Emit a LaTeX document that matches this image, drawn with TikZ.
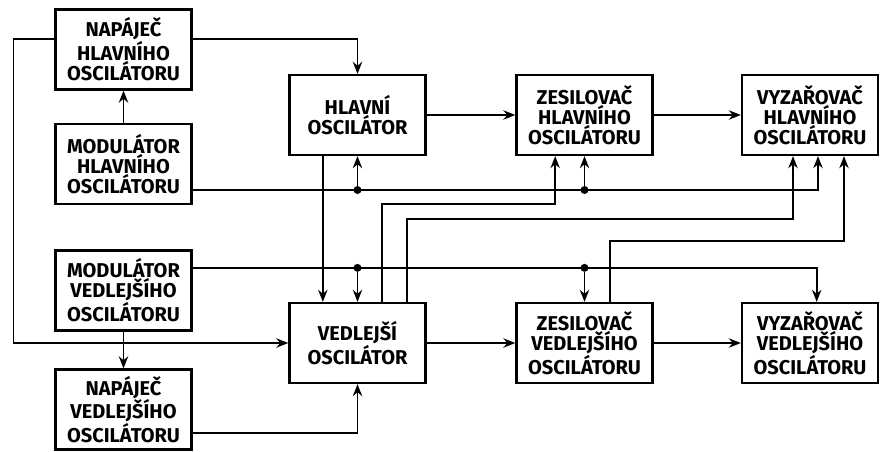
\documentclass[tikz,border=0pt]{standalone}
\usepackage{fontspec}
\setmainfont{Fira Sans}
\usetikzlibrary{arrows.meta,positioning,calc}

\begin{document}
\begin{tikzpicture}[
   x=0.75pt, y=-0.75pt, >={Stealth[length=9pt,width=7pt]},
   blok/.style={draw,line width=1.7pt,minimum width=102pt,minimum height=60pt,align=center,inner sep=1pt,font=\bfseries\fontsize{15}{15}\selectfont},
   vodic/.style={line width=1.3pt},
   uzel/.style={circle,fill,inner sep=0pt,minimum size=6pt}]
  \useasboundingbox (0,0) rectangle (880,451);
  % bloky
  \node[blok] (nh) at (123.5,49.5) {NAPÁJEČ\\HLAVNÍHO\\OSCILÁTORU};
  \node[blok] (mh) at (123.5,164) {MODULÁTOR\\HLAVNÍHO\\OSCILÁTORU};
  \node[blok] (mv) at (123.5,290.5) {MODULÁTOR\\VEDLEJŠÍHO\\OSCILÁTORU};
  \node[blok] (nv) at (123.5,409.5) {NAPÁJEČ\\VEDLEJŠÍHO\\OSCILÁTORU};
  \node[blok] (ho) at (357.5,115) {HLAVNÍ\\OSCILÁTOR};
  \node[blok] (zh) at (584.5,115) {ZESILOVAČ\\HLAVNÍHO\\OSCILÁTORU};
  \node[blok] (vh) at (810,115) {VYZAŘOVAČ\\HLAVNÍHO\\OSCILÁTORU};
  \node[blok] (vo) at (357.5,343) {VEDLEJŠÍ\\OSCILÁTOR};
  \node[blok] (zv) at (584.5,343) {ZESILOVAČ\\VEDLEJŠÍHO\\OSCILÁTORU};
  \node[blok] (vv) at (810,343) {VYZAŘOVAČ\\VEDLEJŠÍHO\\OSCILÁTORU};
  % hlavni vetev
  \draw[vodic,->] (ho) -- (zh);
  \draw[vodic,->] (zh) -- (vh);
  \draw[vodic,->] (vo) -- (zv);
  \draw[vodic,->] (zv) -- (vv);
  % napajece
  \draw[vodic,->] (mh) -- (nh);
  \draw[vodic,->] (mv) -- (nv);
  \draw[vodic,->] ([yshift=8pt]nh.west) -- ++(-41,0) |- (vo.west);
  \draw[vodic,->] ([yshift=8pt]nh.east) -| (ho.north);
  \draw[vodic,->] ([yshift=-17.6pt]nv.east) -| (vo.south);
  % modulace hlavniho
  \coordinate (mhv) at ([yshift=-19.5pt]mh.east);
  \draw[vodic,->] (mhv) -| ([xshift=6pt]vh.south);
  \node[uzel] (d1) at (ho.south |- mhv) {};
  \node[uzel] (d2) at (zh.south |- mhv) {};
  \draw[vodic,->] (d1) -- (ho.south);
  \draw[vodic,->] (d2) -- (zh.south);
  % modulace vedlejsiho
  \coordinate (mvv) at ([yshift=17pt]mv.east);
  \draw[vodic,->] (mvv) -| ([xshift=5pt]vv.north);
  \node[uzel] (d3) at (vo.north |- mvv) {};
  \node[uzel] (d4) at (zv.north |- mvv) {};
  \draw[vodic,->] (d3) -- (vo.north);
  \draw[vodic,->] (d4) -- (zv.north);
  % krizove vazby
  \draw[vodic,->] ([xshift=-26pt]ho.south) -- ([xshift=-26pt]vo.north);
  \draw[vodic,->] ([xshift=18.4pt]vo.north) -- ++(0,-98) -| ([xshift=-22pt]zh.south);
  \draw[vodic,->] ([xshift=37pt]vo.north) -- ++(0,-83) -| ([xshift=-12.75pt]vh.south);
  \draw[vodic,->] ([xshift=19pt]zv.north) -- ++(0,-61) -| ([xshift=25.5pt]vh.south);
\end{tikzpicture}
\end{document}
